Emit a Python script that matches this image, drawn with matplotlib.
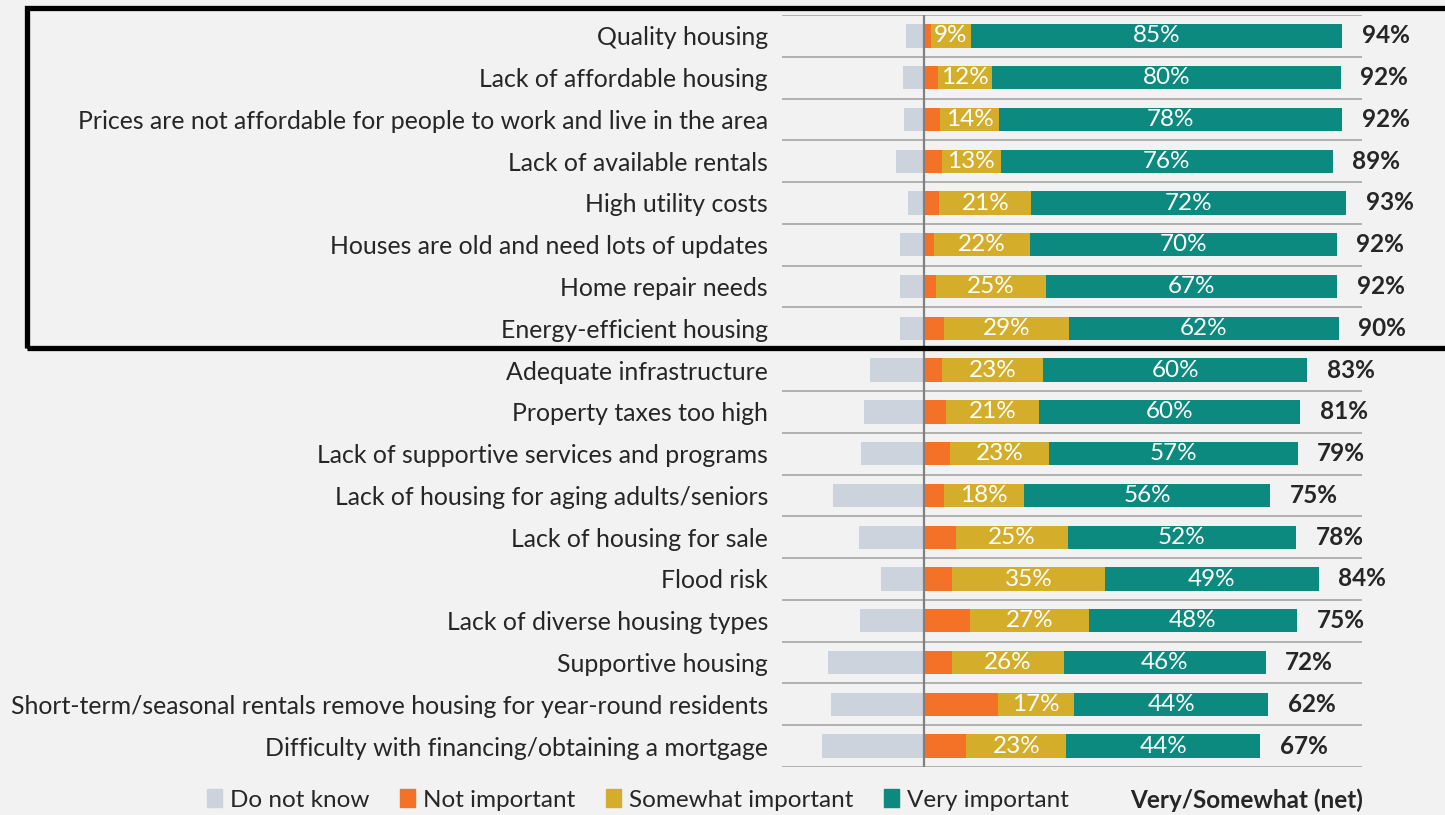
import matplotlib.pyplot as plt
import numpy as np
from matplotlib.patches import Patch, Rectangle

categories = [
    "Quality housing",
    "Lack of affordable housing",
    "Prices are not affordable for people to work and live in the area",
    "Lack of available rentals",
    "High utility costs",
    "Houses are old and need lots of updates",
    "Home repair needs",
    "Energy-efficient housing",
    "Adequate infrastructure",
    "Property taxes too high",
    "Lack of supportive services and programs",
    "Lack of housing for aging adults/seniors",
    "Lack of housing for sale",
    "Flood risk",
    "Lack of diverse housing types",
    "Supportive housing",
    "Short-term/seasonal rentals remove housing for year-round residents",
    "Difficulty with financing/obtaining a mortgage",
]
do_not_know = [4.2, 4.9, 4.5, 6.3, 3.6, 5.4, 5.4, 5.4, 12.4, 13.8, 14.3, 20.8, 14.8, 9.8, 14.7, 22.0, 21.3, 23.2]
not_important = [1.6, 3.1, 3.6, 4.1, 3.5, 2.2, 2.7, 4.5, 4.1, 5.0, 5.9, 4.5, 7.4, 6.4, 10.5, 6.4, 17.0, 9.7]
somewhat = [9.1, 12.4, 13.6, 13.4, 21.0, 21.9, 25.1, 28.6, 23.1, 21.3, 22.6, 18.4, 25.4, 35.0, 27.1, 25.6, 17.3, 22.8]
very = [84.8, 79.6, 78.2, 75.8, 71.8, 70.1, 66.6, 61.6, 60.3, 59.6, 56.8, 56.2, 52.2, 48.7, 47.6, 46.0, 44.3, 44.2]
net = [94, 92, 92, 89, 93, 92, 92, 90, 83, 81, 79, 75, 78, 84, 75, 72, 62, 67]

legend_labels = ["Do not know", "Not important", "Somewhat important", "Very important"]
colors = ["#cdd3dc", "#f47128", "#d4ae2b", "#0c8a80"]

BG = "#f2f2f2"
TXT = "#262626"
FONT = ["Lato", "DejaVu Sans"]
FS = 17.5

plt.rcParams["font.family"] = FONT

W, H = 1445, 815
fig = plt.figure(figsize=(W / 100, H / 100), dpi=100, facecolor=BG)
ax = fig.add_axes([782 / W, 1 - 767 / H, (1362 - 782) / W, (767 - 15) / H])
ax.set_facecolor(BG)

y = np.arange(len(categories))
dk = np.array(do_not_know)
ni = np.array(not_important)
sw = np.array(somewhat)
vi = np.array(very)
bh = 0.56

ax.barh(y, -dk, height=bh, color=colors[0])
ax.barh(y, ni, height=bh, color=colors[1])
ax.barh(y, sw, left=ni, height=bh, color=colors[2])
ax.barh(y, vi, left=ni + sw, height=bh, color=colors[3])

# row separators and zero line
ax.hlines(np.arange(len(categories) + 1) - 0.5, -40, 110, color="#a6a6a6", lw=1.2, zorder=0)
ax.axvline(0, color="#808080", lw=1.6, zorder=3)

for i in range(len(categories)):
    ax.text(ni[i] + sw[i] / 2, i, f"{sw[i]:.0f}%", ha="center", va="center",
            color="white", fontsize=FS)
    ax.text(ni[i] + sw[i] + vi[i] / 2, i, f"{vi[i]:.0f}%", ha="center", va="center",
            color="white", fontsize=FS)
    ax.text(ni[i] + sw[i] + vi[i] + 4.5, i, f"{net[i]}%", ha="left", va="center",
            color=TXT, fontsize=FS, fontweight="bold")

ax.set_xlim((782 - 924) / 4.38, (1362 - 924) / 4.38)
ax.set_ylim(len(categories) - 0.5, -0.5)
ax.set_xticks([])
ax.set_yticks(y, categories)
ax.tick_params(axis="y", length=0, pad=10, labelsize=17.9, labelcolor=TXT)
for s in ax.spines.values():
    s.set_visible(False)

# black highlight box around the top eight rows
fig.patches.append(Rectangle((27 / W, 1 - 348 / H), (1470 - 27) / W, (348 - 8) / H,
                             transform=fig.transFigure, fill=False, ec="black",
                             lw=3.8, clip_on=False))

handles = [Patch(color=c) for c in colors]
fig.legend(handles, legend_labels, ncol=4, loc="center left",
           bbox_to_anchor=(195 / W, 1 - 800 / H), frameon=False, fontsize=FS,
           handlelength=0.62, handleheight=0.74, handletextpad=0.33,
           columnspacing=1.25, borderpad=0, labelcolor=TXT)
fig.text(1130 / W, 1 - 800 / H, "Very/Somewhat (net)", ha="left", va="center",
         fontsize=FS, fontweight="bold", color=TXT)

fig.savefig("out.png", dpi=100, facecolor=BG)
